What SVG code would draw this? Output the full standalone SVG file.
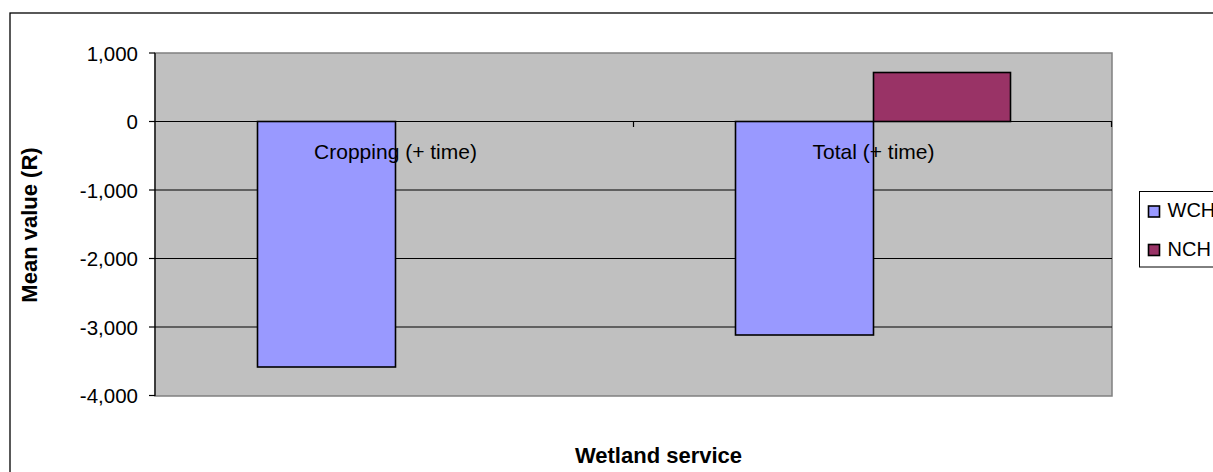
<svg xmlns="http://www.w3.org/2000/svg" width="1213" height="472" viewBox="0 0 1213 472">
  <style>
    .tick { font-family: "Liberation Sans", Arial, sans-serif; font-size: 20.5px; fill: #000; text-anchor: end; }
    .cat { font-family: "Liberation Sans", Arial, sans-serif; font-size: 21px; fill: #000; text-anchor: middle; }
    .title { font-family: "Liberation Sans", Arial, sans-serif; font-size: 22px; font-weight: bold; fill: #000; text-anchor: middle; }
    .leg { font-family: "Liberation Sans", Arial, sans-serif; font-size: 20px; fill: #000; }
    .grid { stroke: #000; stroke-width: 1; }
    .wch { fill: #9999FF; stroke: #000; stroke-width: 1.6; }
    .nch { fill: #993366; stroke: #000; stroke-width: 1.6; }
  </style>

  <rect width="1213" height="472" fill="#fff"/>
  <!-- chart frame (runs past the right and bottom edges) -->
  <rect x="10" y="13" width="1300" height="520" fill="none" stroke="#000" stroke-width="1.3"/>

  <!-- plot area -->
  <g id="plot-area">
    <rect x="155" y="53" width="957" height="343" fill="#C0C0C0" stroke="#808080" stroke-width="1.5"/>
    <line class="grid" x1="155" y1="190" x2="1112" y2="190"/>
    <line class="grid" x1="155" y1="258.5" x2="1112" y2="258.5"/>
    <line class="grid" x1="155" y1="327" x2="1112" y2="327"/>
  </g>

  <!-- bars -->
  <g id="bar-cropping-wch"><rect class="wch" x="257.5" y="121.5" width="138" height="245.5"/></g>
  <g id="bar-total-wch"><rect class="wch" x="735.5" y="121.5" width="138" height="213.5"/></g>
  <g id="bar-total-nch"><rect class="nch" x="873.5" y="72.5" width="137" height="49"/></g>

  <!-- axes and ticks -->
  <g id="axes" stroke="#000" stroke-width="1.2">
    <line x1="155" y1="53" x2="155" y2="396"/>
    <line x1="155" y1="121.5" x2="1112" y2="121.5"/>
    <line x1="149" y1="53" x2="155" y2="53"/>
    <line x1="149" y1="121.5" x2="155" y2="121.5"/>
    <line x1="149" y1="190" x2="155" y2="190"/>
    <line x1="149" y1="258.5" x2="155" y2="258.5"/>
    <line x1="149" y1="327" x2="155" y2="327"/>
    <line x1="149" y1="395.5" x2="155" y2="395.5"/>
    <line x1="633.5" y1="121.5" x2="633.5" y2="127"/>
    <line x1="1111.5" y1="121.5" x2="1111.5" y2="127"/>
  </g>

  <!-- value axis labels -->
  <g id="y-labels">
    <text class="tick" x="138" y="60.5">1,000</text>
    <text class="tick" x="138" y="129">0</text>
    <text class="tick" x="138" y="197.5">-1,000</text>
    <text class="tick" x="138" y="266">-2,000</text>
    <text class="tick" x="138" y="334.5">-3,000</text>
    <text class="tick" x="138" y="403">-4,000</text>
  </g>

  <!-- category labels -->
  <g id="x-labels">
    <text class="cat" x="395.5" y="159">Cropping (+ time)</text>
    <text class="cat" x="873.5" y="159">Total (+ time)</text>
  </g>

  <!-- axis titles -->
  <text class="title" transform="translate(37,225) rotate(-90)">Mean value (R)</text>
  <text class="title" x="658.5" y="463">Wetland service</text>

  <!-- legend -->
  <g id="legend">
    <rect x="1139.5" y="191.5" width="120" height="75.5" fill="#fff" stroke="#000" stroke-width="1"/>
    <rect class="wch" x="1148.5" y="206" width="11" height="11" stroke-width="1.3"/>
    <text class="leg" x="1167.5" y="217">WCH</text>
    <rect class="nch" x="1148.5" y="244.5" width="11" height="11" stroke-width="1.3"/>
    <text class="leg" x="1167.5" y="255.5">NCH</text>
  </g>
</svg>
